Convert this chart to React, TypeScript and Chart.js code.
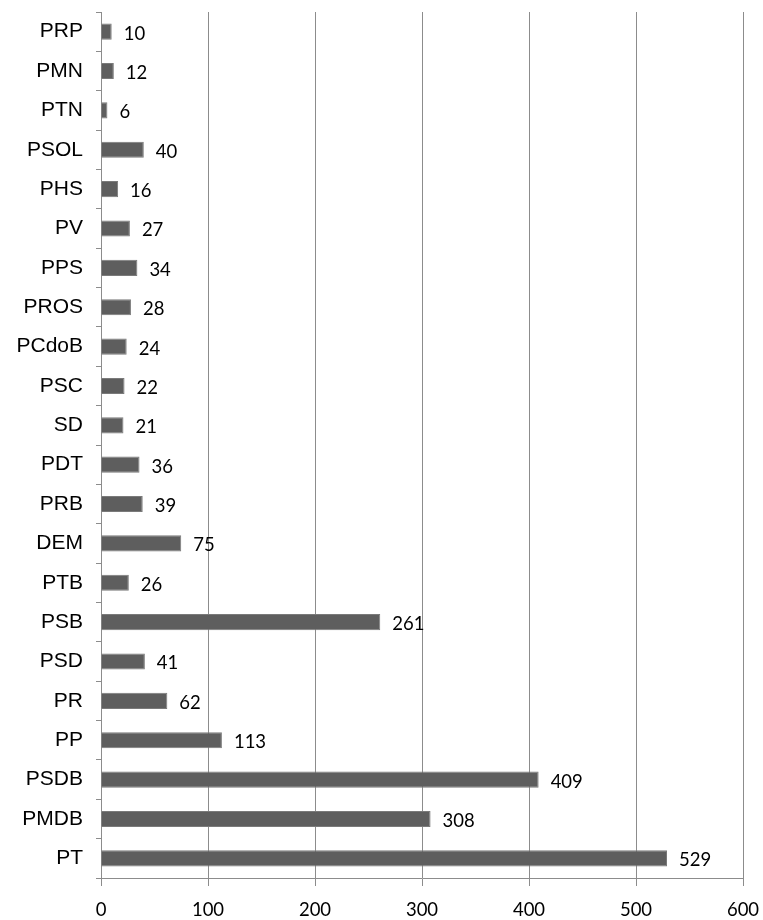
import React, { useEffect, useRef } from "react";
import { Chart, registerables } from "chart.js";

Chart.register(...registerables);

const categories = ["PRP", "PMN", "PTN", "PSOL", "PHS", "PV", "PPS", "PROS", "PCdoB", "PSC", "SD", "PDT", "PRB", "DEM", "PTB", "PSB", "PSD", "PR", "PP", "PSDB", "PMDB", "PT"];
const values = [10, 12, 6, 40, 16, 27, 34, 28, 24, 22, 21, 36, 39, 75, 26, 261, 41, 62, 113, 409, 308, 529];
const xTicks = [0, 100, 200, 300, 400, 500, 600];

const GRID = "#8c8c8c";
const BAR = "#5e5e5e";
const NUM_FONT = "18.5px Lato, 'Open Sans', sans-serif";

const valueLabels = {
  id: "valueLabels",
  afterDatasetsDraw(chart: any) {
    const ctx = chart.ctx;
    const meta = chart.getDatasetMeta(0);
    ctx.save();
    ctx.font = NUM_FONT;
    ctx.fillStyle = "#000";
    ctx.textAlign = "left";
    ctx.textBaseline = "middle";
    meta.data.forEach((el: any, i: number) => {
      ctx.fillText(String(values[i]), el.x + 12, el.y + 2);
    });
    ctx.restore();
  },
};

export default function App() {
  const ref = useRef<HTMLCanvasElement>(null);
  useEffect(() => {
    const chart = new Chart(ref.current!, {
      type: "bar",
      data: {
        labels: categories,
        datasets: [
          {
            data: values,
            backgroundColor: BAR,
            borderColor: "#7a7a7a",
            borderWidth: 1,
            categoryPercentage: 1,
            barPercentage: 0.41,
          },
        ],
      },
      options: {
        indexAxis: "y",
        responsive: false,
        animation: false,
        layout: { padding: { top: 12, right: 20, left: 0, bottom: 0 } },
        plugins: { legend: { display: false }, tooltip: { enabled: false } },
        scales: {
          x: {
            min: 0,
            max: 600,
            afterBuildTicks: (s: any) => {
              s.ticks = xTicks.map((v) => ({ value: v }));
            },
            afterFit: (s: any) => {
              s.height = 42;
              s.paddingLeft = 0;
              s.paddingRight = 0;
            },
            grid: { color: GRID, lineWidth: 1, tickLength: 8, drawTicks: true },
            border: { color: GRID },
            ticks: {
              color: "#000",
              padding: 13,
              font: { family: "Lato, 'Open Sans', sans-serif", size: 18.5 },
            },
          },
          y: {
            offset: true,
            afterFit: (s: any) => {
              s.width = 101;
              s.paddingTop = 0;
              s.paddingBottom = 0;
            },
            grid: { offset: true, drawOnChartArea: false, color: GRID, tickLength: 5 },
            border: { color: GRID },
            ticks: {
              color: "#000",
              padding: 13,
              autoSkip: false,
              font: { family: "'Liberation Sans', Arial, sans-serif", size: 21 },
            },
          },
        },
      },
      plugins: [valueLabels],
    } as any);
    return () => chart.destroy();
  }, []);
  return (
    <div style={{ position: "absolute", left: 0, top: 0, width: 763, height: 920 }}>
      <canvas ref={ref} width={763} height={920} style={{ display: "block" }} />
    </div>
  );
}
